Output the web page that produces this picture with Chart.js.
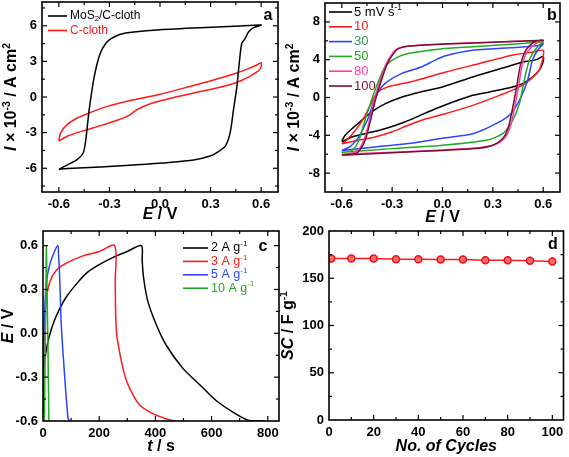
<!DOCTYPE html>
<html>
<head>
<meta charset="utf-8">
<script src="https://cdn.jsdelivr.net/npm/chart.js@4.4.1/dist/chart.umd.min.js"></script>
<style>
  body { margin: 0; background: #fff; }
  #wrap { position: relative; width: 569px; height: 457px; }
  #wrap canvas { position: absolute; }
</style>
</head>
<body>
<div id="wrap">
  <canvas id="chartA" width="280" height="225" style="left:0;top:0"></canvas>
  <canvas id="chartB" width="289" height="225" style="left:280px;top:0"></canvas>
  <canvas id="chartC" width="280" height="232" style="left:0;top:225px"></canvas>
  <canvas id="chartD" width="289" height="232" style="left:280px;top:225px"></canvas>
</div>
<script>
// ---- panel a: CV, MoS2/C-cloth vs C-cloth ----
const aMoS2E = [-0.6, -0.55, -0.49, -0.455, -0.44, -0.42, -0.39, -0.355, -0.32, -0.29, -0.235, -0.156, 0.0, 0.24, 0.44, 0.6,
  0.555, 0.525, 0.505, 0.485, 0.472, 0.456, 0.436, 0.416, 0.387, 0.337, 0.298, 0.2, 0.04, -0.156, -0.353, -0.55, -0.6];
const aMoS2I = [-6.09, -5.72, -5.25, -4.69, -3.58, -1.07, 1.71, 3.66, 4.55, 4.92, 5.28, 5.47, 5.67, 5.84, 5.95, 6.06,
  5.84, 5.47, 4.92, 4.5, 3.11, 0.88, -1.07, -3.02, -4.14, -4.69, -4.97, -5.31, -5.53, -5.72, -5.89, -6.03, -6.09];
const aClothE = [-0.6, -0.59, -0.551, -0.491, -0.412, -0.314, -0.156, 0.002, 0.16, 0.318, 0.436, 0.515, 0.574, 0.6,
  0.6, 0.584, 0.545, 0.476, 0.397, 0.239, 0.081, -0.057, -0.136, -0.186, -0.255, -0.353, -0.452, -0.551, -0.6];
const aClothI = [-3.72, -3.02, -2.33, -1.77, -1.3, -0.79, -0.24, 0.24, 0.82, 1.43, 1.94, 2.33, 2.69, 2.88,
  2.55, 2.21, 1.85, 1.35, 0.96, 0.46, -0.04, -0.57, -1.07, -1.57, -1.96, -2.41, -2.83, -3.3, -3.72];
const aTicksX = [-0.6, -0.3, 0, 0.3, 0.6];
const aTicksY = [-6, -3, 0, 3, 6];

// ---- panel b: CV at different scan rates ----
const bRates = ['5', '10', '30', '50', '80', '100'];
const b5E = [-0.6, -0.58, -0.54, -0.48, -0.42, -0.34, -0.24, -0.13, 0.0, 0.18, 0.38, 0.48, 0.56, 0.6,
  0.596, 0.576, 0.536, 0.477, 0.418, 0.28, 0.18, 0.0, -0.11, -0.225, -0.343, -0.462, -0.54, -0.6];
const b5I = [-4.6, -4.0, -3.3, -2.4, -1.5, -0.65, 0.06, 0.59, 1.12, 2.17, 3.23, 3.76, 4.01, 4.36,
  3.59, 2.88, 2.17, 1.47, 1.12, 0.59, 0.23, -0.9, -1.71, -2.59, -3.3, -3.83, -4.18, -4.7];
const b10E = [-0.6, -0.57, -0.52, -0.47, -0.43, -0.39, -0.33, -0.27, -0.17, 0.02, 0.22, 0.42, 0.54, 0.6,
  0.6, 0.59, 0.576, 0.517, 0.438, 0.34, 0.18, 0.0, -0.106, -0.205, -0.303, -0.402, -0.5, -0.6];
const b10I = [-4.9, -4.5, -3.5, -2.2, -0.8, 0.5, 1.1, 1.35, 1.75, 2.7, 3.6, 4.5, 4.82, 5.0,
  4.3, 3.6, 2.88, 1.82, 0.94, 0.23, -0.83, -1.8, -2.3, -2.94, -3.65, -4.18, -4.53, -4.9];
const b30E = [-0.6, -0.55, -0.5, -0.47, -0.44, -0.4, -0.343, -0.244, -0.126, -0.05, 0.013, 0.181, 0.477, 0.576, 0.6,
  0.566, 0.536, 0.507, 0.468, 0.408, 0.319, 0.181, 0.0, -0.205, -0.402, -0.6];
const b30I = [-5.6, -5.2, -4.2, -3.2, -2.06, 0.05, 1.47, 2.53, 3.23, 3.9, 4.4, 5.0, 5.35, 5.5, 5.7,
  5.0, 3.94, 1.82, 0.05, -1.71, -2.77, -3.83, -4.3, -4.88, -5.24, -5.6];
const b50E = [-0.6, -0.54, -0.5, -0.462, -0.402, -0.343, -0.284, -0.205, 0.013, 0.25, 0.477, 0.6,
  0.58, 0.55, 0.517, 0.487, 0.458, 0.418, 0.359, 0.26, 0.0, -0.303, -0.6];
const b50I = [-5.85, -5.6, -4.6, -2.42, 0.76, 3.23, 4.12, 4.65, 5.18, 5.45, 5.71, 5.9,
  5.6, 5.0, 3.94, 1.82, -0.65, -2.42, -3.83, -4.53, -5.06, -5.41, -5.8];
const b80E = [-0.6, -0.53, -0.495, -0.465, -0.435, -0.405, -0.375, -0.335, -0.295, -0.265, -0.2, 0.0, 0.3, 0.6,
  0.575, 0.535, 0.5, 0.475, 0.455, 0.44, 0.42, 0.4, 0.37, 0.31, 0.2, 0.0, -0.3, -0.6];
const b80I = [-6.0, -5.85, -5.4, -4.4, -2.4, -0.2, 1.6, 3.6, 4.75, 5.2, 5.45, 5.65, 5.85, 6.0,
  5.9, 5.4, 4.7, 3.4, 1.4, -0.1, -1.9, -3.3, -4.3, -5.0, -5.35, -5.55, -5.8, -6.0];
const b100E = [-0.6, -0.52, -0.49, -0.46, -0.43, -0.4, -0.37, -0.33, -0.29, -0.26, -0.2, 0.0, 0.3, 0.6,
  0.56, 0.52, 0.49, 0.465, 0.445, 0.43, 0.41, 0.39, 0.36, 0.3, 0.2, 0.0, -0.3, -0.6];
const b100I = [-6.1, -5.95, -5.5, -4.5, -2.5, -0.3, 1.5, 3.5, 4.7, 5.2, 5.45, 5.65, 5.85, 6.05,
  6.0, 5.5, 4.8, 3.5, 1.5, 0.0, -1.8, -3.3, -4.3, -5.05, -5.4, -5.6, -5.85, -6.1];
const bTicksX = [-0.6, -0.3, 0, 0.3, 0.6];
const bTicksY = [-8, -4, 0, 4, 8];

// ---- panel c: charge / discharge ----
const cCurrents = ['2', '3', '5', '10'];
const c2t = [0, 5, 15, 30, 50, 80, 120, 160, 200, 250, 300, 350, 353, 358, 373, 403, 438, 498, 557, 616, 676, 723, 747, 790];
const c2E = [-0.35, -0.2, -0.08, 0.03, 0.13, 0.24, 0.34, 0.42, 0.47, 0.52, 0.56, 0.6, 0.5, 0.38, 0.22, 0.06, -0.08, -0.24, -0.35, -0.46, -0.54, -0.59, -0.6, -0.6];
const c3t = [0, 3, 9, 24, 47, 83, 142, 201, 255, 257, 259, 263, 270, 280, 296, 320, 344, 391, 438, 468];
const c3E = [-0.55, -0.1, 0.19, 0.35, 0.43, 0.48, 0.53, 0.56, 0.6, 0.35, 0.1, -0.02, -0.1, -0.2, -0.32, -0.42, -0.49, -0.55, -0.585, -0.6];
const c5t = [0, 3, 7, 12, 24, 41, 53, 55, 59, 65, 77, 89, 95];
const c5E = [-0.55, 0.0, 0.2, 0.35, 0.47, 0.56, 0.6, 0.55, 0.4, 0.06, -0.29, -0.58, -0.6];
const c10t = [5, 9, 12, 13, 17, 21];
const c10E = [-0.6, 0.1, 0.6, 0.6, 0.0, -0.6];
const cTicksX = [0, 200, 400, 600, 800];
const cTicksY = [-0.6, -0.3, 0, 0.3, 0.6];

// ---- panel d: cycling ----
const dCycles = [1, 10, 20, 30, 40, 50, 60, 70, 80, 90, 100];
const dSC = [170.9, 170.9, 170.9, 170.2, 170.2, 169.8, 169.8, 169.1, 169.1, 168.4, 167.7];
const dTicksX = [0, 20, 40, 60, 80, 100];
const dTicksY = [0, 50, 100, 150, 200];

const FONT = '"Liberation Sans", Arial, sans-serif';
const RED = '#ff1a1a', BLUE = '#2b45ff', GREEN = '#22aa22', PINK = '#ff3fa0', BROWN = '#7a1030';

const pts = (xs, ys) => xs.map((x, i) => ({ x: x, y: ys[i] }));

// rich text: segments are [text, kind] with kind 'i', 'sup', 'sub' or empty
function segFont(seg, o) {
  const small = seg[1] === 'sup' || seg[1] === 'sub';
  const it = seg[1] === 'i' || o.italic;
  return (it ? 'italic ' : '') + (o.bold ? 'bold ' : '') + (small ? o.size * 0.65 : o.size) + 'px ' + FONT;
}
function drawRich(ctx, segs, x, y, o) {
  ctx.save();
  ctx.translate(x, y);
  if (o.rotate) ctx.rotate(-Math.PI / 2);
  ctx.textBaseline = 'middle';
  ctx.textAlign = 'left';
  let w = 0;
  segs.forEach(s => { ctx.font = segFont(s, o); w += ctx.measureText(s[0]).width; });
  let cx = o.align === 'center' ? -w / 2 : o.align === 'right' ? -w : 0;
  ctx.fillStyle = o.color || '#000';
  segs.forEach(s => {
    ctx.font = segFont(s, o);
    const dy = s[1] === 'sup' ? -o.size * 0.33 : s[1] === 'sub' ? o.size * 0.25 : 0;
    ctx.fillText(s[0], cx, dy);
    cx += ctx.measureText(s[0]).width;
  });
  ctx.restore();
}

// box, inward ticks on all sides, axis titles, panel letter, legend inside the plot
const framePlugin = {
  id: 'frame',
  afterDatasetsDraw(chart, args, opts) {
    const { ctx, chartArea: a } = chart;
    const xs = chart.scales.x, ys = chart.scales.y;
    ctx.save();
    ctx.strokeStyle = '#000';
    ctx.lineWidth = 1.2;
    const seg = (x1, y1, x2, y2) => { ctx.beginPath(); ctx.moveTo(x1, y1); ctx.lineTo(x2, y2); ctx.stroke(); };
    const withMinor = (ticks, lo, hi) => {
      const v = ticks.map(t => t.value);
      const step = v[1] - v[0];
      const out = v.map(t => [t, 5]);
      v.forEach(t => [t - step / 2, t + step / 2].forEach(m => {
        if (m > lo + 1e-9 && m < hi - 1e-9 && !out.some(o => Math.abs(o[0] - m) < 1e-9)) out.push([m, 3]);
      }));
      return out;
    };
    withMinor(xs.ticks, xs.min, xs.max).forEach(([v, len]) => {
      const p = xs.getPixelForValue(v);
      if (p <= a.left + 1 || p >= a.right - 1) return;
      seg(p, a.bottom, p, a.bottom - len);
      seg(p, a.top, p, a.top + len);
    });
    withMinor(ys.ticks, ys.min, ys.max).forEach(([v, len]) => {
      const p = ys.getPixelForValue(v);
      if (p <= a.top + 1 || p >= a.bottom - 1) return;
      seg(a.left, p, a.left + len, p);
      seg(a.right, p, a.right - len, p);
    });
    ctx.lineWidth = 1.6;
    ctx.strokeRect(a.left, a.top, a.right - a.left, a.bottom - a.top);

    drawRich(ctx, opts.xTitle, (a.left + a.right) / 2, opts.xTitleY, { size: 16, bold: true, align: 'center', italic: opts.xItalic });
    drawRich(ctx, opts.yTitle, opts.yTitleX, (a.top + a.bottom) / 2, { size: 16, bold: true, align: 'center', rotate: true });
    drawRich(ctx, [[opts.letter]], opts.letterX, opts.letterY, { size: 16, bold: true, align: 'center' });

    const lg = opts.legend;
    if (lg) {
      lg.items.forEach((it, i) => {
        const y = lg.y + i * lg.dy;
        ctx.strokeStyle = it.color;
        ctx.lineWidth = 1.6;
        seg(lg.x1, y, lg.x2, y);
        drawRich(ctx, it.segs, lg.tx, y, { size: lg.size, color: it.textColor || it.color });
      });
    }
    ctx.restore();
  }
};

const noPad = s => { s.paddingTop = 0; s.paddingBottom = 0; s.paddingLeft = 0; s.paddingRight = 0; };

function axes(cfg) {
  const tickFont = { size: 13, weight: 'bold', family: FONT };
  return {
    x: {
      type: 'linear', min: cfg.xMin, max: cfg.xMax,
      afterBuildTicks: s => { s.ticks = cfg.xTicks.map(v => ({ value: v })); },
      afterFit: s => { s.height = cfg.xH; noPad(s); },
      grid: { display: false, drawTicks: false }, border: { display: false },
      ticks: { font: tickFont, color: '#000', padding: 5, maxRotation: 0, autoSkip: false, callback: cfg.xFmt }
    },
    y: {
      type: 'linear', min: cfg.yMin, max: cfg.yMax,
      afterBuildTicks: s => { s.ticks = cfg.yTicks.map(v => ({ value: v })); },
      afterFit: s => { s.width = cfg.yW; noPad(s); },
      grid: { display: false, drawTicks: false }, border: { display: false },
      ticks: { font: tickFont, color: '#000', padding: 5, autoSkip: false, callback: cfg.yFmt }
    }
  };
}

const line = (label, xs, ys, color, tension) => ({
  label: label, data: pts(xs, ys), showLine: true, borderColor: color, backgroundColor: color,
  borderWidth: 1.5, pointRadius: 0, fill: false, tension: tension
});

const common = { responsive: false, animation: false, events: [] };
const fix1 = v => v.toFixed(1);
const int0 = v => String(v);

// panel a
new Chart(document.getElementById('chartA'), {
  type: 'scatter',
  data: {
    datasets: [
      line('MoS2/C-cloth', aMoS2E, aMoS2I, '#000', 0.25),
      line('C-cloth', aClothE, aClothI, RED, 0.25)
    ]
  },
  options: Object.assign({}, common, {
    layout: { padding: { left: 0, top: 2, right: 2, bottom: 0 } },
    scales: axes({ xMin: -0.7, xMax: 0.7, xTicks: aTicksX, xFmt: fix1, xH: 33,
      yMin: -8, yMax: 8, yTicks: aTicksY, yFmt: int0, yW: 42 }),
    plugins: {
      legend: { display: false }, tooltip: { enabled: false },
      frame: {
        xTitle: [['E', 'i'], [' / V']], xTitleY: 215,
        yTitle: [['I', 'i'], [' \u00d7 10'], ['-3', 'sup'], [' / A cm'], ['2', 'sup']], yTitleX: 12,
        letter: 'a', letterX: 268, letterY: 16,
        legend: { x1: 48, x2: 67, tx: 70, y: 16, dy: 14.5, size: 12, items: [
          { segs: [['MoS'], ['2', 'sub'], ['/C-cloth']], color: '#000' },
          { segs: [['C-cloth']], color: RED }
        ] }
      }
    }
  }),
  plugins: [framePlugin]
});

// panel b
const bColors = ['#000', RED, BLUE, GREEN, PINK, BROWN];
const bTextColors = ['#000', RED, '#2f9a55', GREEN, PINK, BROWN];
new Chart(document.getElementById('chartB'), {
  type: 'scatter',
  data: {
    datasets: [
      line(bRates[5], b100E, b100I, BROWN, 0.25),
      line(bRates[4], b80E, b80I, PINK, 0.25),
      line(bRates[3], b50E, b50I, GREEN, 0.25),
      line(bRates[2], b30E, b30I, BLUE, 0.25),
      line(bRates[1], b10E, b10I, RED, 0.25),
      line(bRates[0], b5E, b5I, '#000', 0.25)
    ]
  },
  options: Object.assign({}, common, {
    layout: { padding: { left: 0, top: 3, right: 9, bottom: 0 } },
    scales: axes({ xMin: -0.7, xMax: 0.7, xTicks: bTicksX, xFmt: fix1, xH: 33,
      yMin: -10, yMax: 10, yTicks: bTicksY, yFmt: int0, yW: 45 }),
    plugins: {
      legend: { display: false }, tooltip: { enabled: false },
      frame: {
        xTitle: [['E', 'i'], [' / V']], xTitleY: 218,
        yTitle: [['I', 'i'], [' \u00d7 10'], ['-3', 'sup'], [' / A cm'], ['2', 'sup']], yTitleX: 15,
        letter: 'b', letterX: 272, letterY: 16,
        legend: { x1: 49, x2: 72, tx: 74, y: 12, dy: 14.8, size: 13, items: bRates.map((r, i) => ({
          segs: i === 0 ? [[r + ' mV s'], ['-1', 'sup']] : [[r]], color: bColors[i], textColor: bTextColors[i]
        })) }
      }
    }
  }),
  plugins: [framePlugin]
});

// panel c
const cColors = ['#000', RED, BLUE, GREEN];
new Chart(document.getElementById('chartC'), {
  type: 'scatter',
  data: {
    datasets: [
      line('10', c10t, c10E, GREEN, 0),
      line('5', c5t, c5E, BLUE, 0.3),
      line('3', c3t, c3E, RED, 0.3),
      line('2', c2t, c2E, '#000', 0.3)
    ]
  },
  options: Object.assign({}, common, {
    layout: { padding: { left: 0, top: 6, right: 1, bottom: 0 } },
    scales: axes({ xMin: 0, xMax: 840, xTicks: cTicksX, xFmt: int0, xH: 36,
      yMin: -0.6, yMax: 0.7, yTicks: cTicksY, yFmt: fix1, yW: 43 }),
    plugins: {
      legend: { display: false }, tooltip: { enabled: false },
      frame: {
        xTitle: [['t', 'i'], [' / s']], xTitleY: 222,
        yTitle: [['E', 'i'], [' / V']], yTitleX: 9,
        letter: 'c', letterX: 263, letterY: 22,
        legend: { x1: 183, x2: 208, tx: 211, y: 23, dy: 13.4, size: 12.5, items: cCurrents.map((c, i) => ({
          segs: [[c + ' A g'], ['-1', 'sup']], color: cColors[i]
        })) }
      }
    }
  }),
  plugins: [framePlugin]
});

// panel d
new Chart(document.getElementById('chartD'), {
  type: 'scatter',
  data: {
    datasets: [{
      label: 'SC', data: pts(dCycles, dSC), showLine: true, borderColor: RED, borderWidth: 1.5,
      pointRadius: 3.5, pointBackgroundColor: '#ff6a6a', pointBorderColor: '#e8101a', pointBorderWidth: 1.5
    }]
  },
  options: Object.assign({}, common, {
    layout: { padding: { left: 0, top: 6, right: 4, bottom: 0 } },
    scales: axes({ xMin: 0, xMax: 105, xTicks: dTicksX, xFmt: int0, xH: 37,
      yMin: 0, yMax: 200, yTicks: dTicksY, yFmt: int0, yW: 49 }),
    plugins: {
      legend: { display: false }, tooltip: { enabled: false },
      frame: {
        xTitle: [['No. of Cycles']], xItalic: true, xTitleY: 222,
        yTitle: [['SC', 'i'], [' / F g'], ['-1', 'sup']], yTitleX: 9,
        letter: 'd', letterX: 273, letterY: 20
      }
    }
  }),
  plugins: [framePlugin]
});
</script>
</body>
</html>
